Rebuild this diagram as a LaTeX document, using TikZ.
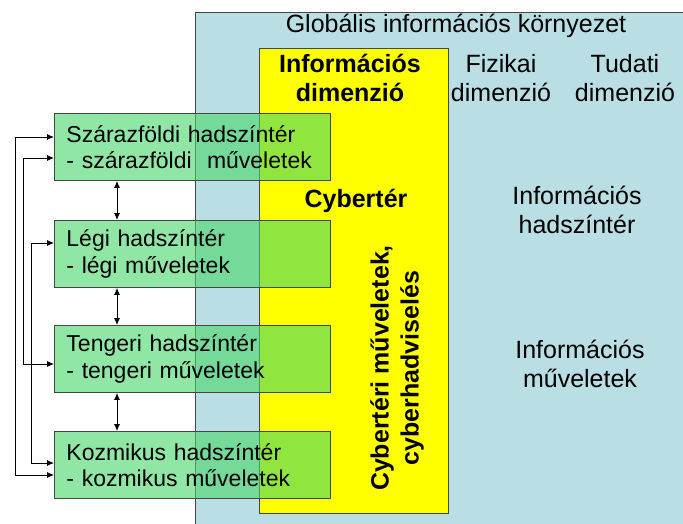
\documentclass[tikz,border=0pt]{standalone}
\usepackage{fontspec}
\setmainfont{Liberation Sans}
\usetikzlibrary{arrows.meta}
\definecolor{envblue}{RGB}{185,222,227}
\definecolor{cyberyellow}{RGB}{255,255,0}
\definecolor{boxgreen}{RGB}{70,214,105}
\definecolor{edge}{RGB}{70,70,70}
\tikzset{
  gbox/.style={draw=edge, line width=0.9pt, fill=boxgreen, fill opacity=0.6, text opacity=1,
    anchor=north west, minimum width=276pt, minimum height=67pt, text width=252pt,
    inner xsep=12pt, inner ysep=0pt, align=left, font=\fontsize{23}{26.5}\selectfont},
  lbl/.style={align=center, font=\fontsize{25}{28.5}\selectfont, inner sep=0pt},
  blbl/.style={lbl, font=\fontsize{25}{28.5}\selectfont\bfseries},
  conn/.style={line width=0.9pt, {Latex[length=7pt,width=6pt]}-{Latex[length=7pt,width=6pt]}},
}
\begin{document}
\begin{tikzpicture}[x=1pt,y=-1pt]
\useasboundingbox (0,0) rectangle (683,523);
\clip (0,0) rectangle (683,523);
\fill[white] (0,0) rectangle (683,523);
% environment
\node[draw=edge, line width=0.9pt, fill=envblue, anchor=north west, minimum width=500pt, minimum height=520pt, inner sep=0pt] (env) at (195,12) {};
\node[draw=edge, line width=0.9pt, fill=cyberyellow, anchor=north west, minimum width=189pt, minimum height=465pt, inner sep=0pt] (cyb) at (259,48) {};
% texts
\node[lbl, anchor=base] (glob) at (456,32) {Globális információs környezet};
\node[blbl, anchor=base] (infd) at (350,101) {Információs\\dimenzió};
\node[lbl, anchor=base] (fiz) at (501,101) {Fizikai\\dimenzió};
\node[lbl, anchor=base] (tud) at (625,101) {Tudati\\dimenzió};
\node[blbl, anchor=base] (cybt) at (356,207) {Cybertér};
\node[lbl, anchor=base] (ihad) at (577,233) {Információs\\hadszíntér};
\node[lbl, anchor=base] (imuv) at (580,387) {Információs\\műveletek};
\node[blbl, rotate=90, font=\fontsize{25}{30}\selectfont\bfseries] (cybm) at (397,368) {Cybertéri műveletek,\\cyberhadviselés};
% green boxes
\node[gbox] (b1) at (54,113) {Szárazföldi hadszíntér\\- szárazföldi\ \ műveletek};
\node[gbox] (b2) at (54,220) {Légi hadszíntér\\- légi műveletek};
\node[gbox] (b3) at (54,325) {Tengeri hadszíntér\\- tengeri műveletek};
\node[gbox] (b4) at (54,431) {Kozmikus hadszíntér\\- kozmikus műveletek};
% vertical arrows between boxes
\coordinate (vx) at (117,0);
\draw[conn] (b1.south -| vx) -- (b2.north -| vx);
\draw[conn] (b2.south -| vx) -- (b3.north -| vx);
\draw[conn] (b3.south -| vx) -- (b4.north -| vx);
% left connectors
\coordinate (p1) at (15,137);
\coordinate (p2) at (15,475);
\draw[conn] (b1.west |- p1) -- (p1) -- (p2) -- (b4.west |- p2);
\coordinate (q1) at (23,158);
\coordinate (q2) at (23,364);
\draw[conn] (b1.west |- q1) -- (q1) -- (q2) -- (b3.west |- q2);
\coordinate (r1) at (31,243);
\coordinate (r2) at (31,463);
\draw[conn] (b2.west |- r1) -- (r1) -- (r2) -- (b4.west |- r2);
\end{tikzpicture}
\end{document}
